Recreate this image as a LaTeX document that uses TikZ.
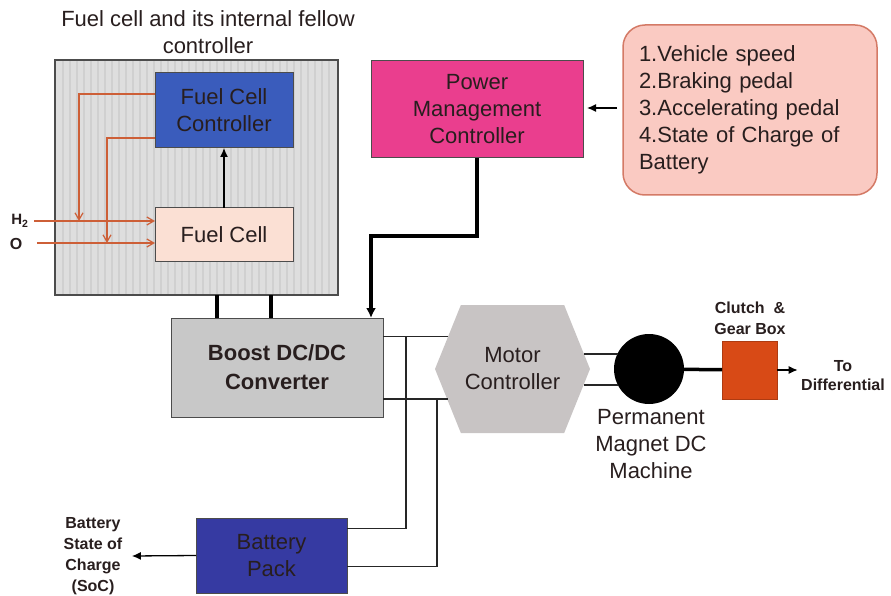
\documentclass[tikz,border=0pt]{standalone}
\usepackage{fontspec}
\setmainfont{Liberation Sans}
\usetikzlibrary{arrows.meta,positioning,shapes.symbols}
\definecolor{fcGrey}{RGB}{222,222,222}
\definecolor{fcStripe}{RGB}{208,208,208}
\definecolor{fcBlue}{RGB}{58,92,188}
\definecolor{fcPeach}{RGB}{251,224,212}
\definecolor{fcOrange}{RGB}{205,95,55}
\definecolor{pmMagenta}{RGB}{234,62,142}
\definecolor{listPink}{RGB}{250,202,194}
\definecolor{listEdge}{RGB}{212,122,102}
\definecolor{boostGrey}{RGB}{200,200,200}
\definecolor{motorGrey}{RGB}{200,196,196}
\definecolor{gearRed}{RGB}{216,74,22}
\definecolor{packBlue}{RGB}{54,58,162}
\definecolor{textDark}{RGB}{40,30,30}

\begin{document}
\begin{tikzpicture}[
  x=1pt,y=-1pt,
  every node/.style={font=\fontsize{22}{27}\selectfont,text=textDark},
  block/.style={draw=black!70,fill=#1,line width=1pt,inner sep=0pt,outer sep=0pt,align=center},
  wire/.style={line width=1.3pt,draw=black!85},
  bus/.style={line width=3.5pt,draw=black},
  arrow/.style={-{Latex[length=9pt,width=8pt]},line width=1.3pt,draw=black},
  feed/.style={-{Straight Barb[length=7pt,width=8pt]},line width=1.2pt,draw=fcOrange},
  note/.style={font=\bfseries\fontsize{16}{21}\selectfont,align=center}
]
  \useasboundingbox (0,0) rectangle (891,596);

  % fuel cell group
  \node[align=center] (title) at (208,32) {Fuel cell and its internal fellow\\controller};
  \node[block=fcGrey,minimum width=283pt,minimum height=235pt] (fcbox) at (196.5,177.5) {};
  \foreach \sx in {63,70,...,333}
    \draw[fcStripe,line width=1.2pt] (\sx,61) -- (\sx,294);
  \draw[black!70,line width=1.5pt] (fcbox.north west) rectangle (fcbox.south east);

  \node[block=fcBlue,minimum width=138pt,minimum height=75pt] (fcc) at (224,110.5) {Fuel Cell\\Controller};
  \node[block=fcPeach,minimum width=138pt,minimum height=53pt] (fc) at (224,234.5) {Fuel Cell};
  \draw[arrow] (fc) -- (fcc);

  \node[note,font=\bfseries\fontsize{15}{18}\selectfont] (h2) at (20,221) {H\textsubscript{2}};
  \node[note] (ox) at (16,244) {O};
  \coordinate (tapH) at (79,221);
  \coordinate (tapO) at (107,243);
  \draw[feed] ([xshift=2pt]h2.east |- tapH) -- (fc.west |- tapH);
  \draw[feed] ([xshift=11pt]ox.east |- tapO) -- (fc.west |- tapO);
  \draw[feed] ([yshift=16.5pt]fcc.west) -| (tapH);
  \draw[feed] ([yshift=-27.5pt]fcc.west) -| (tapO);

  % power management
  \node[block=pmMagenta,minimum width=212pt,minimum height=97pt] (pmc) at (477,109.5) {Power\\Management\\Controller};
  \node[block=listPink,draw=listEdge,line width=1.5pt,rounded corners=22pt,minimum width=254pt,minimum height=170pt,
        text width=222pt,inner xsep=16pt,align=left] (inputs) at (750,110)
    {1.Vehicle speed\\2.Braking pedal\\3.Accelerating pedal\\4.State of Charge of\\Battery};
  \draw[arrow] ([xshift=-6pt,yshift=2pt]inputs.west) -- ([xshift=4pt,yshift=1.5pt]pmc.east);

  % converter and drive
  \node[block=boostGrey,minimum width=212pt,minimum height=99pt,font=\bfseries\fontsize{22}{29}\selectfont] (boost) at (277,367.5) {Boost DC/DC\\Converter};
  \draw[bus] ([xshift=20.5pt]fcbox.south) -- ([xshift=20.5pt]fcbox.south |- boost.north);
  \draw[bus] ([xshift=74.5pt]fcbox.south) -- ([xshift=74.5pt]fcbox.south |- boost.north);
  \draw[bus,-{Latex[length=10pt,width=10pt]}] (pmc.south) -- ++(0,78) -| ([xshift=94pt]boost.north);

  \node[shape=signal,signal to=east and west,signal pointer angle=136,fill=motorGrey,
        minimum width=155pt,minimum height=128pt,inner sep=0pt,align=center] (motor) at (512.5,369) {Motor\\Controller};
  \node[circle,fill=black,minimum size=70pt,inner sep=0pt] (pmdc) at (649,369) {};
  \node[align=center] (pmdcl) at (651,444) {Permanent\\Magnet DC\\Machine};
  \node[block=gearRed,draw=gearRed!80!black,minimum width=55pt,minimum height=58pt] (gear) at (749.5,370) {};
  \node[note] (gearl) at (750,318) {Clutch \ \&\\Gear Box};
  \node[note,font=\bfseries\fontsize{16}{19}\selectfont] (diff) at (843,376) {To\\Differential};
  \draw[bus] (pmdc) -- (gear);
  \draw[arrow] (gear.east) -- (diff.west |- gear.east);

  \draw[wire] ([yshift=31pt]boost.east) -- ([xshift=13pt,yshift=31pt]boost.east -| motor.west);
  \draw[wire] ([yshift=-31.5pt]boost.east) -- ([xshift=13pt,yshift=-31.5pt]boost.east -| motor.west);
  \draw[wire] ([xshift=-6pt,yshift=15pt]motor.east) -- ([xshift=4pt,yshift=15pt]motor.east -| pmdc.west);
  \draw[wire] ([xshift=-6pt,yshift=-16pt]motor.east) -- ([xshift=4pt,yshift=-16pt]motor.east -| pmdc.west);

  % battery
  \node[block=packBlue,minimum width=151pt,minimum height=75pt] (pack) at (271.5,555.5) {Battery\\Pack};
  \node[note] (soc) at (93,556) {Battery\\State of\\Charge\\(SoC)};
  \draw[arrow] (pack.west) -- ([xshift=6pt]soc.east);
  \draw[wire] ([xshift=23pt,yshift=31pt]boost.east) |- ([yshift=27pt]pack.east);
  \draw[wire] ([xshift=54pt,yshift=-31.5pt]boost.east) |- ([yshift=-11pt]pack.east);
\end{tikzpicture}
\end{document}
